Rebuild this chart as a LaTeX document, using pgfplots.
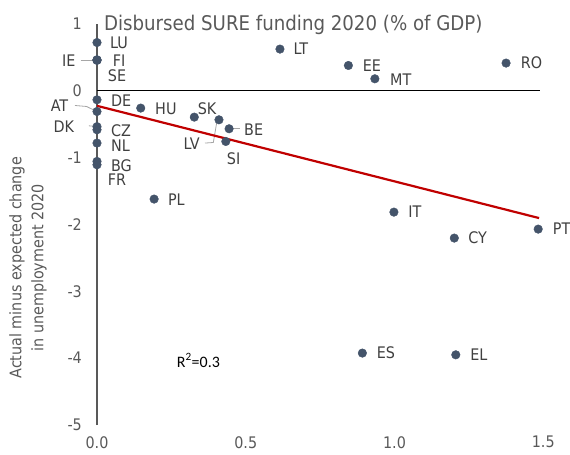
\documentclass[border=0pt]{standalone}
\usepackage{pgfplots}
\pgfplotsset{compat=1.18}
\usepackage{fontspec}
\setmainfont{DejaVu Sans Condensed}
\newfontfamily\carlito{Carlito}
\definecolor{dot}{HTML}{44546A}
\definecolor{txt}{HTML}{404040}
\definecolor{axgray}{HTML}{595959}
\definecolor{trend}{HTML}{C00000}
\definecolor{lead}{HTML}{A6A6A6}
\tikzset{lab/.style={font=\fontsize{16}{19}\selectfont, text=txt, inner sep=0pt}}
\begin{document}
\begin{tikzpicture}
\begin{axis}[
 x=297.5bp, y=66.9bp,
 xmin=0, xmax=1.5, ymin=-5, ymax=1,
 axis lines=left, axis line style={-, axgray, line width=1.2bp},
 x axis line style={draw=none},
 major tick length=0pt,
 xtick={0,0.5,1,1.5}, ytick={-5,-4,-3,-2,-1,0,1},
 clip=false,
 tick label style={font=\fontsize{16}{19}\selectfont, text=axgray},
 /pgf/number format/assume math mode=true,
 xticklabel style={/pgf/number format/fixed, /pgf/number format/fixed zerofill, /pgf/number format/precision=1, anchor=north, inner sep=0pt, yshift=-11bp},
 yticklabel style={anchor=east, inner sep=0pt, xshift=-15bp},
]
% zero line
\addplot[black, line width=1bp] coordinates {(0,0) (1.49,0)};
% leader lines
\addplot[lead, line width=0.8bp] coordinates {(-0.0548,0.449) (-0.0067,0.449)};
\addplot[lead, line width=0.8bp] coordinates {(-0.074,-0.224) (-0.035,-0.239) (-0.001,-0.314)};
\addplot[lead, line width=0.8bp] coordinates {(-0.027,-0.528) (0,-0.538)};
\addplot[lead, line width=0.8bp] coordinates {(0.363,-0.786) (0.391,-0.777) (0.404,-0.438)};
\addplot[lead, line width=0.8bp] coordinates {(0.456,-0.572) (0.481,-0.572)};
% trend line
\addplot[trend, line width=2.2bp] coordinates {(0,-0.229) (1.486,-1.907)};
% countries
\addplot[only marks, mark=*, mark size=4.3bp, color=dot] coordinates {
 (0,0.717)    % LU
 (0,0.459)    % IE
 (0,0.455)    % FI
 (0,0.45)     % SE
 (0,-0.139)   % DE
 (0,-0.314)   % AT
 (0,-0.54)    % DK
 (0,-0.587)   % CZ
 (0,-0.786)   % NL
 (0,-1.06)    % BG
 (0,-1.11)    % FR
 (0.147,-0.263) % HU
 (0.327,-0.398) % SK
 (0.410,-0.438) % LV
 (0.444,-0.572) % BE
 (0.433,-0.762) % SI
 (0.192,-1.623) % PL
 (0.615,0.619)  % LT
 (0.845,0.374)  % EE
 (0.934,0.175)  % MT
 (1.375,0.410)  % RO
 (0.998,-1.818) % IT
 (1.201,-2.206) % CY
 (1.483,-2.072) % PT
 (0.892,-3.925) % ES
 (1.206,-3.951) % EL
};
% labels
\node[lab, anchor=west] at (axis cs:0.0437,0.713) {LU};
\node[lab, anchor=west] at (axis cs:0.0528,0.444) {FI};
\node[lab, anchor=west] at (axis cs:0.036,0.225) {SE};
\node[lab, anchor=west] at (axis cs:0.047,-0.154) {DE};
\node[lab, anchor=west] at (axis cs:0.047,-0.605) {CZ};
\node[lab, anchor=west] at (axis cs:0.047,-0.82) {NL};
\node[lab, anchor=west] at (axis cs:0.047,-1.121) {BG};
\node[lab, anchor=west] at (axis cs:0.036,-1.335) {FR};
\node[lab, anchor=west] at (axis cs:0.195,-0.278) {HU};
\node[lab, anchor=west] at (axis cs:0.338,-0.278) {SK};
\node[lab, anchor=west] at (axis cs:0.494,-0.587) {BE};
\node[lab, anchor=west] at (axis cs:0.436,-1.025) {SI};
\node[lab, anchor=west] at (axis cs:0.238,-1.634) {PL};
\node[lab, anchor=west] at (axis cs:0.660,0.619) {LT};
\node[lab, anchor=west] at (axis cs:0.893,0.374) {EE};
\node[lab, anchor=west] at (axis cs:0.985,0.160) {MT};
\node[lab, anchor=west] at (axis cs:1.424,0.410) {RO};
\node[lab, anchor=west] at (axis cs:1.046,-1.818) {IT};
\node[lab, anchor=west] at (axis cs:1.248,-2.206) {CY};
\node[lab, anchor=west] at (axis cs:1.532,-2.072) {PT};
\node[lab, anchor=west] at (axis cs:0.940,-3.925) {ES};
\node[lab, anchor=west] at (axis cs:1.254,-3.951) {EL};
\node[lab, anchor=east] at (axis cs:-0.0716,0.444) {IE};
\node[lab, anchor=east] at (axis cs:-0.0965,-0.229) {AT};
\node[lab, anchor=east] at (axis cs:-0.0763,-0.547) {DK};
\node[lab, anchor=east] at (axis cs:0.346,-0.797) {LV};
\node[anchor=west, inner sep=0pt, font=\carlito\fontsize{16}{19}\selectfont, text=black] at (axis cs:0.268,-4.036) {R\textsuperscript{2}=0.3};
% title
\node[anchor=base, inner sep=0pt, font=\fontsize{20.3}{24}\selectfont, text=axgray] at (axis cs:0.66,0.892) {Disbursed SURE funding 2020 (\% of GDP)};
% y label
\node[rotate=90, align=center, inner sep=0pt, font=\fontsize{16}{22}\selectfont, text=axgray] at (axis cs:-0.232,-2.65) {Actual minus expected change\\in unemployment 2020};
\coordinate (O) at (axis cs:0,-5);
\end{axis}
\pgfresetboundingbox
\path[use as bounding box] (O) ++(-97bp,-30bp) rectangle ++(570bp,455bp);
\end{tikzpicture}
\end{document}
